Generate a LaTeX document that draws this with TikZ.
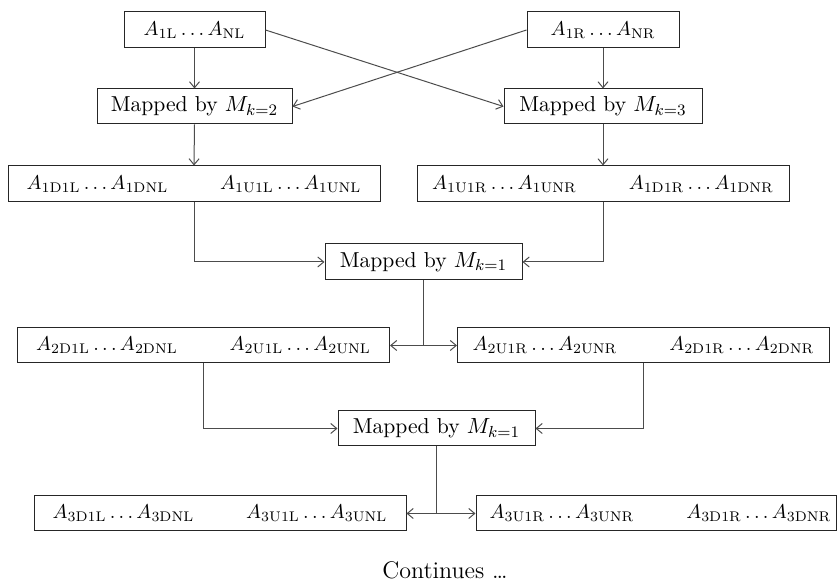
\documentclass[tikz,border=0pt]{standalone}
\usetikzlibrary{arrows.meta}
\begin{document}
\begin{tikzpicture}[x=0.5pt,y=-0.5pt,
  font=\fontsize{10.8}{13}\selectfont,
  atext/.style={font=\fontsize{10}{12}\selectfont},
  box/.style={draw=black!85,line width=0.5pt,inner sep=0pt,minimum height=18pt},
  wide/.style={box,atext,minimum width=186pt},
  link/.style={draw=black!70,line width=0.5pt},
  arr/.style={link,-{Straight Barb[length=3pt,width=5pt]}}]
\useasboundingbox (0,0) rectangle (837,581);

% inputs
\node[box,atext,minimum width=70.5pt] (a1l) at (194.5,30) {$A_{\mathrm{1L}}\dots A_{\mathrm{NL}}$};
\node[box,atext,minimum width=76pt]   (a1r) at (603,30)   {$A_{\mathrm{1R}}\dots A_{\mathrm{NR}}$};

% first mappings
\node[box,minimum width=97.5pt,minimum height=17.5pt] (m2) at (194.5,106.5) {Mapped by $M_{k=2}$};
\node[box,minimum width=99pt,minimum height=17.5pt]   (m3) at (603,106.5)   {Mapped by $M_{k=3}$};

% level 1
\node[wide] (b1l) at (194,184) {$A_{\mathrm{1D1L}}\dots A_{\mathrm{1DNL}}$\hspace{26pt}$A_{\mathrm{1U1L}}\dots A_{\mathrm{1UNL}}$};
\node[wide] (b1r) at (603,184) {$A_{\mathrm{1U1R}}\dots A_{\mathrm{1UNR}}$\hspace{26pt}$A_{\mathrm{1D1R}}\dots A_{\mathrm{1DNR}}$};

\node[box,minimum width=98.5pt] (m1a) at (423.5,262) {Mapped by $M_{k=1}$};

% level 2
\node[wide,minimum height=17.5pt] (b2l) at (203.5,345.5) {$A_{\mathrm{2D1L}}\dots A_{\mathrm{2DNL}}$\hspace{26pt}$A_{\mathrm{2U1L}}\dots A_{\mathrm{2UNL}}$};
\node[wide,minimum height=17.5pt] (b2r) at (643.5,345.5) {$A_{\mathrm{2U1R}}\dots A_{\mathrm{2UNR}}$\hspace{26pt}$A_{\mathrm{2D1R}}\dots A_{\mathrm{2DNR}}$};

\node[box,minimum width=98.5pt,minimum height=17.5pt] (m1b) at (436.5,428.5) {Mapped by $M_{k=1}$};

% level 3
\node[wide,minimum height=17.5pt] (b3l) at (220,513.5) {$A_{\mathrm{3D1L}}\dots A_{\mathrm{3DNL}}$\hspace{26pt}$A_{\mathrm{3U1L}}\dots A_{\mathrm{3UNL}}$};
\node[box,atext,minimum width=180pt,minimum height=17.5pt] (b3r) at (656,513.5) {\hspace{4.5pt}$A_{\mathrm{3U1R}}\dots A_{\mathrm{3UNR}}$\hspace{26pt}$A_{\mathrm{3D1R}}\dots A_{\mathrm{3DNR}}$};

\node[font=\fontsize{12}{14}\selectfont] (cont) at (445,570) {Continues \ldots};

% connectors
\draw[arr] (a1l.south) -- (m2.north);
\draw[arr] (a1r.south) -- (m3.north);
\draw[arr] (a1l.east) -- (m3.west);
\draw[arr] (a1r.west) -- (m2.east);
\draw[arr] (m2.south) -- (b1l.north);
\draw[arr] (m3.south) -- (b1r.north);
\draw[arr] (b1l.south) |- (m1a.west);
\draw[arr] (b1r.south) |- (m1a.east);

\coordinate (j1) at (m1a.south |- b2l.east);
\draw[link] (m1a.south) -- (j1);
\draw[arr] (j1) -- (b2l.east);
\draw[arr] (j1) -- (b2r.west);
\draw[arr] (b2l.south) |- (m1b.west);
\draw[arr] (b2r.south) |- (m1b.east);

\coordinate (j2) at (m1b.south |- b3l.east);
\draw[link] (m1b.south) -- (j2);
\draw[arr] (j2) -- (b3l.east);
\draw[arr] (j2) -- (b3r.west);
\end{tikzpicture}
\end{document}
